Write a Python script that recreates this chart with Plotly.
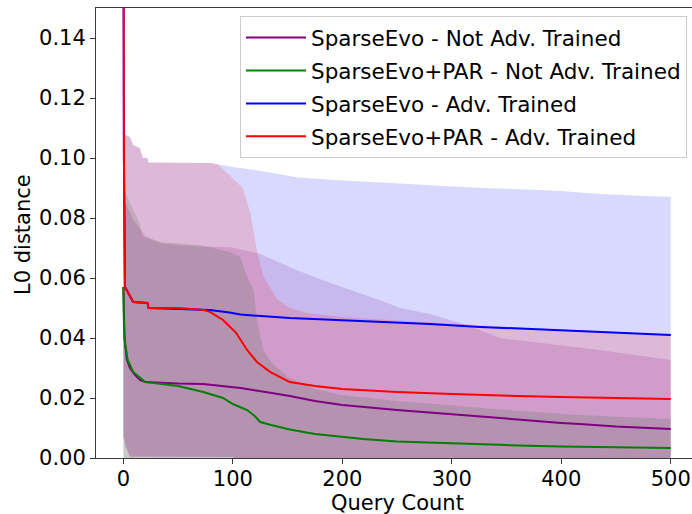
import plotly.graph_objects as go

# ---------------- data ----------------
# mean curves
purple_x = [0, 1, 3, 6, 10, 15, 20, 35, 50, 73, 90, 107, 130, 152, 175, 200, 250, 300, 326, 350, 400, 417, 450, 500]
purple_y = [0.057, 0.040, 0.033, 0.030, 0.028, 0.026, 0.0253, 0.025, 0.0248, 0.0247, 0.024, 0.0233, 0.022, 0.0207, 0.019,
            0.0177, 0.016, 0.0145, 0.0137, 0.013, 0.0117, 0.0113, 0.0105, 0.0097]

green_x = [0, 0.5, 1.5, 4, 9, 15, 20, 35, 50, 73, 91, 100, 113, 120, 125, 135, 152, 175, 200, 219, 250, 300, 326, 350,
           400, 417, 450, 500]
green_y = [0.057, 0.045, 0.0383, 0.0327, 0.0287, 0.0267, 0.0253, 0.0247, 0.024, 0.022, 0.020, 0.018, 0.016, 0.014, 0.012,
           0.011, 0.0095, 0.008, 0.007, 0.0063, 0.0055, 0.0048, 0.0046, 0.0043, 0.0038, 0.0037, 0.0035, 0.0033]

blue_x = [0, 0.5, 1.5, 4, 9, 22, 23, 50, 73, 79, 97, 107, 152, 200, 253, 280, 326, 400, 435, 500]
blue_y = [0.2, 0.1, 0.057, 0.0553, 0.052, 0.0517, 0.050, 0.0497, 0.0495, 0.0493, 0.0485, 0.0478, 0.0467, 0.046, 0.045,
          0.0447, 0.0437, 0.0425, 0.042, 0.041]

red_x = [0, 0.5, 1.5, 4, 9, 22, 23, 50, 73, 79, 91, 103, 113, 122, 134, 152, 175, 200, 250, 300, 326, 400, 450, 500]
red_y = [0.2, 0.1, 0.057, 0.0553, 0.052, 0.0517, 0.050, 0.050, 0.0493, 0.0487, 0.046, 0.0417, 0.036, 0.032, 0.0287,
         0.0253, 0.024, 0.023, 0.022, 0.0213, 0.021, 0.0203, 0.020, 0.0197]

# band bounds
purple_up_x = [0, 2, 10, 15, 20, 35, 70, 97, 125, 158, 189, 234, 253, 280, 314, 344, 400, 435, 500]
purple_up_y = [0.088, 0.085, 0.079, 0.0765, 0.074, 0.0715, 0.0705, 0.0703, 0.068, 0.0627, 0.0583, 0.0527, 0.050, 0.048,
               0.0443, 0.040, 0.0375, 0.036, 0.0327]
purple_lo_x = [0, 500]
purple_lo_y = [-0.02, -0.02]

green_up_x = [0, 1, 15, 18, 35, 70, 97, 107, 113, 119, 122, 128, 135, 150, 175, 200, 250, 300, 326, 350, 417, 500]
green_up_y = [0.090, 0.089, 0.078, 0.0737, 0.072, 0.071, 0.0687, 0.067, 0.0603, 0.056, 0.046, 0.036, 0.032, 0.027,
              0.023, 0.021, 0.019, 0.0175, 0.0167, 0.016, 0.0143, 0.013]
green_lo_x = [0, 500]
green_lo_y = [-0.02, -0.02]

blue_up_x = [0, 2, 6, 9, 15, 18, 22, 23, 80, 100, 120, 160, 200, 253, 300, 400, 435, 500]
blue_up_y = [0.108, 0.1077, 0.107, 0.1043, 0.1033, 0.100, 0.100, 0.0985, 0.0983, 0.097, 0.096, 0.0935, 0.0925, 0.0915,
             0.0905, 0.089, 0.088, 0.087]
blue_lo_x = [0, 1, 2, 4, 6, 100, 110, 500]
blue_lo_y = [0.007, 0.006, 0.004, 0.002, 0.0004, 0.0003, -0.005, -0.005]

red_up_x = [0, 2, 6, 9, 15, 18, 22, 23, 80, 87, 95, 102, 109, 116, 122, 128, 134, 140, 152, 168, 200, 250, 280, 300,
            350, 400, 450, 500]
red_up_y = [0.108, 0.1077, 0.107, 0.1043, 0.1033, 0.100, 0.100, 0.0985, 0.0983, 0.0977, 0.095, 0.0927, 0.090, 0.0817,
            0.0693, 0.0603, 0.057, 0.053, 0.050, 0.0483, 0.047, 0.0458, 0.0452, 0.0447, 0.0437, 0.0428, 0.042, 0.0413]
red_lo_x = [0, 1, 2, 4, 6, 100, 110, 500]
red_lo_y = [0.007, 0.006, 0.004, 0.002, 0.0004, 0.0003, -0.005, -0.005]

names = ["SparseEvo - Not Adv. Trained", "SparseEvo+PAR - Not Adv. Trained",
         "SparseEvo - Adv. Trained", "SparseEvo+PAR - Adv. Trained"]
y_ticks = [0.00, 0.02, 0.04, 0.06, 0.08, 0.10, 0.12, 0.14]
x_ticks = [0, 100, 200, 300, 400, 500]

# ---------------- styling ----------------
rgb = {"purple": (128, 0, 128), "green": (0, 128, 0), "blue": (0, 0, 255), "red": (255, 0, 0)}
FONT = "DejaVu Sans"
FS = 21
LFS = 21.5
ALPHA = 0.15

series = [
    ("purple", names[0], purple_x, purple_y, purple_up_x, purple_up_y, purple_lo_x, purple_lo_y),
    ("green", names[1], green_x, green_y, green_up_x, green_up_y, green_lo_x, green_lo_y),
    ("blue", names[2], blue_x, blue_y, blue_up_x, blue_up_y, blue_lo_x, blue_lo_y),
    ("red", names[3], red_x, red_y, red_up_x, red_up_y, red_lo_x, red_lo_y),
]

fig = go.Figure()

# bands first
for col, name, mx, my, ux, uy, lx, ly in series:
    r, g, b = rgb[col]
    px = list(ux) + list(reversed(lx))
    py = list(uy) + list(reversed(ly))
    fig.add_trace(go.Scatter(
        x=px, y=py, mode="lines", fill="toself",
        fillcolor=f"rgba({r},{g},{b},{ALPHA})",
        line=dict(width=0, color=f"rgba({r},{g},{b},0)"),
        hoverinfo="skip", showlegend=False))

# mean lines on top
for col, name, mx, my, ux, uy, lx, ly in series:
    r, g, b = rgb[col]
    fig.add_trace(go.Scatter(
        x=mx, y=my, mode="lines", name=name, legendgroup=name,
        line=dict(color=f"rgb({r},{g},{b})", width=2)))

L, R, T, B = 96, 0, 8, 56
W, H = 692, 514
plot_w = W - L - R
plot_h = H - T - B
bottom_px = H - B


def px_to_paper_x(p):
    return (p - L) / plot_w


def px_to_paper_y(p):
    return (bottom_px - p) / plot_h


axis_col = "#3a3a3a"
fig.update_layout(
    width=W, height=H,
    margin=dict(l=L, r=R, t=T, b=B, pad=0),
    paper_bgcolor="white", plot_bgcolor="white",
    font=dict(family=FONT, size=FS, color="black"),
    showlegend=True,
    legend=dict(
        x=px_to_paper_x(687), y=px_to_paper_y(16), xanchor="right", yanchor="top",
        bgcolor="rgba(255,255,255,0.8)", bordercolor="#cccccc", borderwidth=1,
        font=dict(family=FONT, size=LFS, color="black"),
        tracegroupgap=2, traceorder="grouped", itemwidth=60,
    ),
    xaxis=dict(
        range=[-25, 519.4], tickmode="array", tickvals=x_ticks,
        ticktext=[str(v) for v in x_ticks],
        ticks="outside", ticklen=5, tickwidth=1, tickcolor=axis_col,
        showline=True, linecolor=axis_col, linewidth=1, mirror=True,
        showgrid=False, zeroline=False, ticklabelstandoff=-3,
        tickfont=dict(family=FONT, size=FS, color="black"),
    ),
    yaxis=dict(
        range=[0, 0.15], tickmode="array", tickvals=y_ticks,
        ticktext=[f"{v:.2f}" for v in y_ticks],
        ticks="outside", ticklen=5, tickwidth=1, tickcolor=axis_col,
        showline=True, linecolor=axis_col, linewidth=1, mirror=False,
        showgrid=False, zeroline=False,
        tickfont=dict(family=FONT, size=FS, color="black"),
    ),
    annotations=[
        dict(text="Query Count", xref="paper", yref="paper",
             x=px_to_paper_x(397), y=px_to_paper_y(503), xanchor="center", yanchor="middle",
             showarrow=False, font=dict(family=FONT, size=FS, color="black")),
        dict(text="L0 distance", xref="paper", yref="paper", textangle=-90,
             x=px_to_paper_x(23), y=px_to_paper_y(235), xanchor="center", yanchor="middle",
             showarrow=False, font=dict(family=FONT, size=FS, color="black")),
    ],
)

fig.write_html("out.html")
